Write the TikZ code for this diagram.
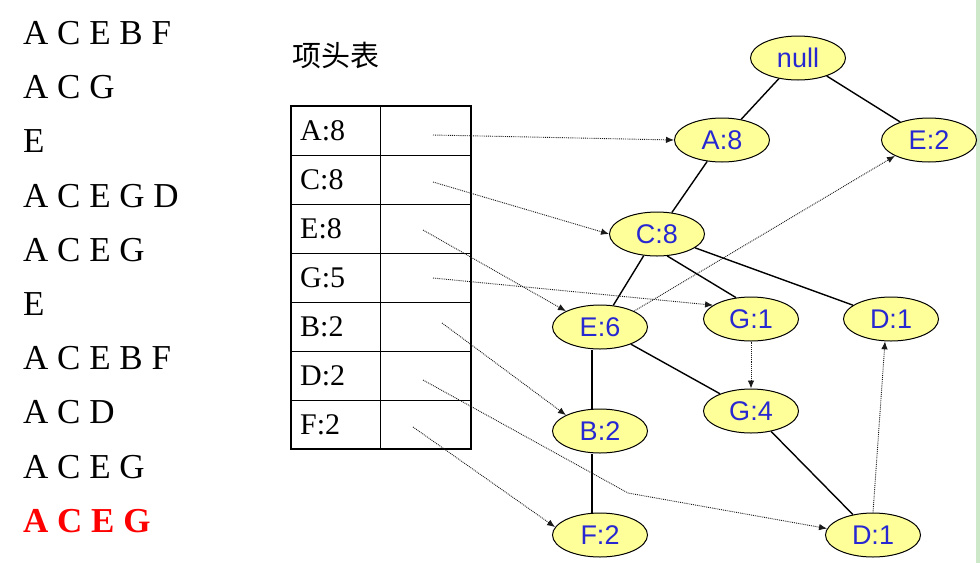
\documentclass[tikz,border=0pt]{standalone}
\usepackage{fontspec}
\setmainfont{Liberation Serif}
\newfontfamily\nodefont{Liberation Sans}
\newfontfamily\cjkfont{Noto Sans CJK SC}
\usetikzlibrary{shapes.geometric}
\usetikzlibrary{arrows.meta}
\definecolor{nodefill}{RGB}{255,255,153}
\definecolor{nodetext}{RGB}{40,40,210}
\definecolor{slidegreen}{RGB}{205,232,200}

\begin{document}
\begin{tikzpicture}[x=1pt,y=-1pt,
        treenode/.style={ellipse,draw=black,line width=1pt,fill=nodefill,minimum width=95pt,minimum height=44pt,inner sep=0pt,text=nodetext,font=\nodefont\fontsize{27}{30}\selectfont},
        link/.style={line width=1.4pt},
        pointer/.style={densely dotted,line width=0.9pt,black!90,-{Latex[length=8pt,width=6.5pt]}},
        item/.style={anchor=west,inner sep=0pt,font=\fontsize{35}{40}\selectfont}]
        \useasboundingbox (0,0) rectangle (980,563);
        \fill[slidegreen] (976,0) rectangle (980,563);

        % transactions
        \foreach \t [count=\i] in {A C E B F,A C G,E,A C E G D,A C E G,E,A C E B F,A C D,A C E G}
            \node[item] (t\i) at (23,{33+54.2*(\i-1)}) {\t};
        \node[item,text=red,font=\bfseries\fontsize{35}{40}\selectfont] (t10) at (23,521) {A C E G};

        % header table
        \node[anchor=west,inner sep=0pt,font=\cjkfont\fontsize{29}{32}\selectfont] (title) at (292,55) {项头表};
        \draw[line width=0.8pt] (380,106) -- (380,449);
        \foreach \i in {1,...,6}
            \draw[line width=0.8pt] (291,{106+49*\i}) -- (471,{106+49*\i});
        \draw[line width=2pt] (291,106) rectangle (471,449);
        \foreach \lbl [count=\i] in {A:8,C:8,E:8,G:5,B:2,D:2,F:2}
            \node[anchor=west,inner sep=0pt,font=\fontsize{30}{32}\selectfont] (h\i) at (300,{130.5+49*(\i-1)}) {\lbl};
        \coordinate (pA) at (433,135);
        \coordinate (pC) at (433,182);
        \coordinate (pE) at (423,230);
        \coordinate (pG) at (433,278);
        \coordinate (pB) at (442,323);
        \coordinate (pD) at (423,380);
        \coordinate (pF) at (413,427);
        \coordinate (kink) at (628,493);

        % fp-tree
        \node[treenode] (root) at (798,58) {null};
        \node[treenode] (a8) at (722,140) {A:8};
        \node[treenode] (e2) at (929,140) {E:2};
        \node[treenode] (c8) at (657,234) {C:8};
        \node[treenode] (e6) at (600,327) {E:6};
        \node[treenode] (g1) at (751,319) {G:1};
        \node[treenode] (d1) at (891,319) {D:1};
        \node[treenode] (g4) at (751,411) {G:4};
        \node[treenode] (b2) at (600,431) {B:2};
        \node[treenode] (f2) at (600,535) {F:2};
        \node[treenode] (d1b) at (873,535) {D:1};

        \draw[link] (root) -- (a8);
        \draw[link] (root) -- (e2);
        \draw[link] (a8) -- (c8);
        \draw[link] (c8) -- (e6);
        \draw[link] (c8.-65) -- (g1.125);
        \draw[link] (c8) -- (d1);
        \draw[link] ([xshift=-8pt]e6.south) -- ([xshift=-8pt]b2.north);
        \draw[link] ([xshift=-8pt]b2.south) -- ([xshift=-8pt]f2.north);
        \draw[link] (e6) -- (g4);
        \draw[link] (g4) -- (d1b);

        % node links
        \draw[pointer] (pA) -- (a8.west);
        \draw[pointer] (pC) -- (c8.west);
        \draw[pointer] (pE) -- (e6.155);
        \draw[pointer] (pG) -- (g1.160);
        \draw[pointer] (pB) -- (b2.155);
        \draw[pointer] (pD) -- (kink) -- (d1b.172);
        \draw[pointer] (pF) -- (f2.170);
        \draw[pointer] (e6.25) -- (e2.205);
        \draw[pointer] (g1.south) -- (g4.north);
        \draw[pointer] (d1b.north) -- (d1.255);
    \end{tikzpicture}
\end{document}
